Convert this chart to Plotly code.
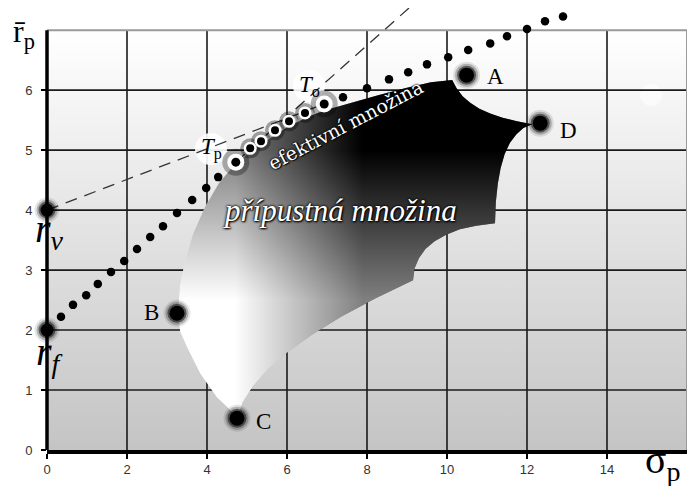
import plotly.graph_objects as go

# ---------------- data ----------------
x_ticks = [0, 2, 4, 6, 8, 10, 12, 14]
y_ticks = [0, 1, 2, 3, 4, 5, 6]
x_max = 16
y_frame = 7
y_view = 7.37

# risk-free rates on the vertical axis
rate_names = ["r_f", "r_v"]
rate_y = [2.0, 4.0]
rate_label_y = [1.60, 3.66]

# dotted line r_f -> T_p
cml_x = [0.35, 0.65, 0.98, 1.27, 1.60, 1.93, 2.25, 2.58, 2.90, 3.25, 3.63, 3.98, 4.28]
cml_y = [2.22, 2.42, 2.58, 2.77, 2.97, 3.15, 3.35, 3.55, 3.73, 3.95, 4.17, 4.37, 4.55]

# dots on the efficient set between T_p and T_o (with halo)
eff_x = [5.08, 5.35, 5.70, 6.05, 6.45]
eff_y = [5.03, 5.15, 5.33, 5.48, 5.62]

# dotted line beyond T_o
upper_x = [7.40, 8.00, 8.55, 9.03, 9.50, 10.03, 10.53, 11.08, 11.50, 12.00, 12.45, 12.90]
upper_y = [5.88, 6.03, 6.18, 6.30, 6.43, 6.55, 6.67, 6.78, 6.90, 7.02, 7.15, 7.23]

# tangency portfolios
tan_names = ["T_p", "T_o"]
tan_x = [4.72, 6.93]
tan_y = [4.80, 5.77]
tan_label_x = [4.10, 6.55]
tan_label_y = [5.02, 6.07]

# dashed lines
dash1_x = [0.0, 6.93]
dash1_y = [4.0, 5.77]
dash2_x = [4.72, 9.05]
dash2_y = [4.80, 7.37]

# assets
asset_names = ["A", "B", "C", "D"]
asset_x = [10.49, 3.25, 4.75, 12.33]
asset_y = [6.25, 2.28, 0.53, 5.45]
asset_label_x = [11.20, 2.60, 5.42, 13.03]
asset_label_y = [6.23, 2.30, 0.48, 5.32]

# feasible set boundary (T_p -> A -> D -> cusps -> C -> B -> T_p)
region_x = [4.72, 5.35, 6.00, 6.50, 6.93, 7.50, 8.30, 9.00, 9.60, 10.13,
            10.24, 10.39, 10.58, 10.81, 11.08, 11.39, 11.75, 12.13,
            11.91, 11.73, 11.57, 11.44, 11.34, 11.27, 11.22, 11.20,
            10.73, 10.32, 9.98, 9.69, 9.46, 9.30, 9.19, 9.15,
            8.19, 7.35, 6.62, 6.01, 5.52, 5.15, 4.89, 4.75,
            4.58, 4.25, 3.83, 3.50, 3.33, 3.28,
            3.33, 3.45, 3.65, 3.95, 4.30, 4.72]
region_y = [4.78, 5.10, 5.38, 5.55, 5.66, 5.77, 5.92, 6.04, 6.13, 6.17,
            6.03, 5.90, 5.79, 5.69, 5.61, 5.54, 5.48, 5.43,
            5.37, 5.26, 5.12, 4.93, 4.70, 4.44, 4.13, 3.78,
            3.74, 3.68, 3.59, 3.48, 3.35, 3.20, 3.03, 2.83,
            2.52, 2.22, 1.92, 1.63, 1.35, 1.07, 0.80, 0.53,
            0.67, 0.88, 1.28, 1.72, 1.98, 2.30,
            2.75, 3.15, 3.60, 4.05, 4.45, 4.78]

SERIF = "Liberation Serif"
SANS = "Liberation Sans"

fig = go.Figure()

def add(**kw):
    kw.setdefault("hoverinfo", "skip")
    kw.setdefault("showlegend", False)
    fig.add_trace(go.Scatter(**kw))

# background gradient of the plot frame
add(x=[0, x_max, x_max, 0, 0], y=[0, 0, y_frame, y_frame, 0], mode="lines",
    line=dict(width=0), fill="toself",
    fillgradient=dict(type="vertical", colorscale=[[0, "#c4c4c4"], [1, "#ffffff"]],
                      start=0, stop=y_frame))

# soft white spot
add(x=[15.1], y=[5.92], mode="markers",
    marker=dict(size=22, color="rgba(255,255,255,0.6)", line=dict(width=0)))

# grid
gx, gy = [], []
for xv in x_ticks[1:]:
    gx += [xv, xv, None]
    gy += [0, y_frame, None]
for yv in y_ticks[1:]:
    gx += [0, x_max, None]
    gy += [yv, yv, None]
add(x=gx, y=gy, mode="lines", line=dict(color="#1a1a1a", width=1.6))

# frame top/right
add(x=[0, x_max, x_max], y=[y_frame, y_frame, 0], mode="lines",
    line=dict(color="#9a9a9a", width=2))

# feasible set : two gradient layers give a diagonal gradient
add(x=region_x, y=region_y, mode="lines", line=dict(width=0), fill="toself",
    fillgradient=dict(type="horizontal", colorscale=[[0, "#ffffff"], [1, "#000000"]],
                      start=4.7, stop=7.9))
add(x=region_x, y=region_y, mode="lines", line=dict(width=0), fill="toself",
    opacity=0.5,
    fillgradient=dict(type="vertical", colorscale=[[0, "#ffffff"], [1, "#000000"]],
                      start=2.5, stop=5.0))

# white glow behind tangency labels
add(x=tan_label_x, y=tan_label_y, mode="markers",
    marker=dict(size=32, color="rgba(255,255,255,0.9)", line=dict(width=0)))

# dashed lines
add(x=dash1_x, y=dash1_y, mode="lines", line=dict(color="#333333", width=1.3, dash="12px,8px"))
add(x=dash2_x, y=dash2_y, mode="lines", line=dict(color="#333333", width=1.3, dash="12px,8px"))

# dotted lines
add(x=cml_x, y=cml_y, mode="markers", marker=dict(size=8.5, color="black"), cliponaxis=False)
add(x=upper_x, y=upper_y, mode="markers", marker=dict(size=8.5, color="black"), cliponaxis=False)

# haloed dots on efficient set
add(x=eff_x, y=eff_y, mode="markers", marker=dict(size=20, color="rgba(0,0,0,0.35)"))
add(x=eff_x, y=eff_y, mode="markers", marker=dict(size=13, color="white"))
add(x=eff_x, y=eff_y, mode="markers", marker=dict(size=8, color="black"))
add(x=tan_x, y=tan_y, mode="markers", marker=dict(size=27, color="rgba(0,0,0,0.3)"))
add(x=tan_x, y=tan_y, mode="markers", marker=dict(size=17, color="white"))
add(x=tan_x, y=tan_y, mode="markers", marker=dict(size=9, color="black"))

# glowing points
def glow(xs, ys, core):
    for extra, op in [(12, 0.10), (8, 0.22), (4, 0.5)]:
        add(x=xs, y=ys, mode="markers", cliponaxis=False,
            marker=dict(size=core + extra, color=f"rgba(0,0,0,{op})", line=dict(width=0)))
    add(x=xs, y=ys, mode="markers", cliponaxis=False,
        marker=dict(size=core, color="black", line=dict(width=0)))

glow(asset_x, asset_y, 15)
glow([0] * len(rate_y), rate_y, 13)

# labels
ann = []
for name, lx, ly in zip(asset_names, asset_label_x, asset_label_y):
    ann.append(dict(x=lx, y=ly, text=name, showarrow=False,
                    font=dict(family=SERIF, size=23, color="black")))
for name, lx, ly in zip(tan_names, tan_label_x, tan_label_y):
    base, sub = name.split("_")
    ann.append(dict(x=lx, y=ly, text=f"<i>{base}</i><sub>{sub}</sub>", showarrow=False,
                    font=dict(family=SERIF, size=23, color="black")))

ann.append(dict(x=7.45, y=5.42, text="efektivní množina", showarrow=False, textangle=-27.5,
                font=dict(family="DejaVu Serif", size=19, color="white",
                          shadow="0px 0px 2px #000, 0px 0px 2px #000, 1px 1px 1px #000")))
ann.append(dict(x=7.33, y=4.0, text="<i>přípustná množina</i>", showarrow=False,
                font=dict(family=SERIF, size=31, color="white",
                          shadow="0px 0px 3px #000, 0px 0px 2px #000, 1px 1px 2px #000")))

# axis titles
ann.append(dict(xref="paper", yref="paper", x=-0.036, y=0.943, text="r̄<sub>p</sub>",
                xanchor="center", yanchor="middle",
                showarrow=False, font=dict(family=SERIF, size=32, color="black")))
ann.append(dict(xref="paper", yref="paper", x=0.962, y=-0.028, text="σ<sub>p</sub>",
                xanchor="center", yanchor="middle",
                showarrow=False, font=dict(family=SERIF, size=40, color="black")))
for name, ly in zip(rate_names, rate_label_y):
    base, sub = name.split("_")
    ann.append(dict(xref="paper", yref="y", x=0.004, y=ly,
                    xanchor="center", yanchor="middle",
                    text=f"<i>{base}</i><sub><i>{sub}</i></sub>", showarrow=False,
                    font=dict(family=SERIF, size=40, color="black")))

fig.update_layout(
    width=699, height=486,
    margin=dict(l=39, r=20, t=0, b=44),
    paper_bgcolor="white", plot_bgcolor="white",
    annotations=ann,
    shapes=[dict(type="line", xref="paper", yref="y", x0=0, x1=0, y0=0, y1=y_frame,
                 line=dict(color="black", width=3.5), layer="above")],
    xaxis=dict(range=[0, x_max], tickvals=x_ticks, ticks="outside", ticklen=5, tickwidth=2,
               tickcolor="black", showgrid=False, zeroline=False, showline=True,
               linecolor="black", linewidth=3.5,
               tickfont=dict(family=SANS, size=13, color="#333333")),
    yaxis=dict(range=[0, y_view], tickvals=y_ticks, ticks="outside", ticklen=5, tickwidth=2,
               tickcolor="black", showgrid=False, zeroline=False, showline=False,
               ticklabelstandoff=6,
               tickfont=dict(family=SANS, size=13, color="#333333")),
)

fig.write_html("out.html")
